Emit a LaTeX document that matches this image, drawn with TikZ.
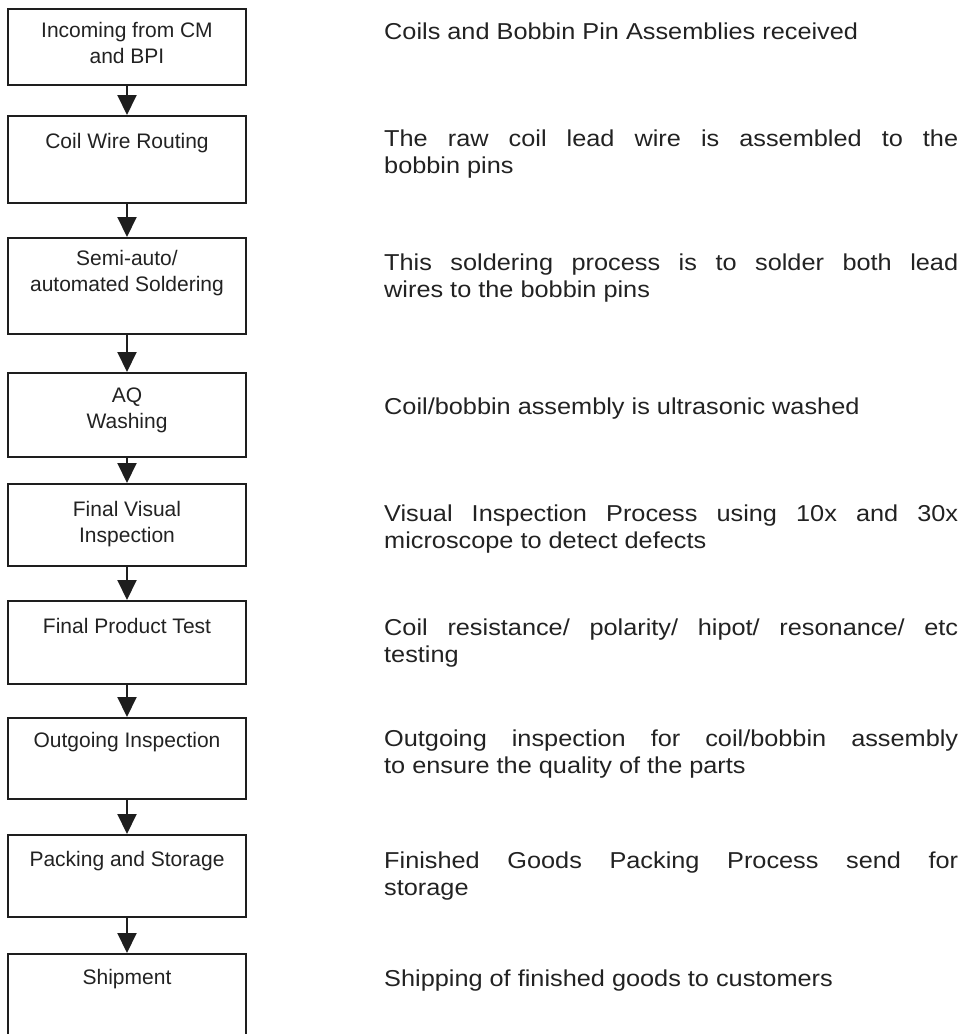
\documentclass[tikz,border=0pt]{standalone}
\usepackage{fontspec}
\setmainfont{Liberation Sans}
\newfontfamily\descfont[FakeStretch=1.1]{Liberation Sans}
\usetikzlibrary{arrows.meta}
\definecolor{linec}{HTML}{1E1E1E}
\definecolor{textc}{HTML}{222222}
\tolerance=10000
\hbadness=10000
\begin{document}
\begin{tikzpicture}[x=1pt,y=-1pt,
  stepbox/.style={draw=linec, line width=2.2pt, minimum width=238pt, inner sep=0pt, anchor=north},
  boxtext/.style={font=\fontsize{21}{26}\selectfont, inner sep=0pt, anchor=base, text=textc},
  desc/.style={font=\descfont\fontsize{23}{27.5}\selectfont, inner sep=0pt, anchor=base west, text=textc},
  flow/.style={draw=linec, line width=2pt, -{Triangle[length=20pt,width=19pt]}}]
\useasboundingbox (0,0) rectangle (961,1034);

% process boxes
\node[stepbox, minimum height=76pt] (b1) at (127,8) {};
\node[stepbox, minimum height=87pt] (b2) at (127,115) {};
\node[stepbox, minimum height=96pt] (b3) at (127,237) {};
\node[stepbox, minimum height=84pt] (b4) at (127,372) {};
\node[stepbox, minimum height=82pt] (b5) at (127,483) {};
\node[stepbox, minimum height=83pt] (b6) at (127,600) {};
\node[stepbox, minimum height=81pt] (b7) at (127,717) {};
\node[stepbox, minimum height=82pt] (b8) at (127,834) {};
\node[stepbox, minimum height=86pt] (b9) at (127,953) {};

% box captions
\node[boxtext] (t1) at (127,37) {\begin{tabular}[t]{@{}c@{}}Incoming from CM\\and BPI\end{tabular}};
\node[boxtext] (t2) at (127,148) {Coil Wire Routing};
\node[boxtext] (t3) at (127,265) {\begin{tabular}[t]{@{}c@{}}Semi-auto/\\automated Soldering\end{tabular}};
\node[boxtext] (t4) at (127,402) {\begin{tabular}[t]{@{}c@{}}AQ\\Washing\end{tabular}};
\node[boxtext] (t5) at (127,516) {\begin{tabular}[t]{@{}c@{}}Final Visual\\Inspection\end{tabular}};
\node[boxtext] (t6) at (127,633) {Final Product Test};
\node[boxtext] (t7) at (127,747) {Outgoing Inspection};
\node[boxtext] (t8) at (127,866) {Packing and Storage};
\node[boxtext] (t9) at (127,984) {Shipment};

% flow arrows
\foreach \a/\b in {b1/b2,b2/b3,b3/b4,b4/b5,b5/b6,b6/b7,b7/b8,b8/b9}
  \draw[flow] (\a.south) -- (\b.north);

% descriptions
\node[desc] (d1) at (384,39) {\parbox[t]{574pt}{Coils and Bobbin Pin Assemblies received}};
\node[desc] (d2) at (384,146) {\parbox[t]{574pt}{The raw coil lead wire is assembled to the\linebreak bobbin pins}};
\node[desc] (d3) at (384,270) {\parbox[t]{574pt}{This soldering process is to solder both lead\linebreak wires to the bobbin pins}};
\node[desc] (d4) at (384,414) {\parbox[t]{574pt}{Coil/bobbin assembly is ultrasonic washed}};
\node[desc] (d5) at (384,521) {\parbox[t]{574pt}{Visual Inspection Process using 10x and 30x\linebreak microscope to detect defects}};
\node[desc] (d6) at (384,635) {\parbox[t]{574pt}{Coil resistance/ polarity/ hipot/ resonance/ etc\linebreak testing}};
\node[desc] (d7) at (384,746) {\parbox[t]{574pt}{Outgoing inspection for coil/bobbin assembly\linebreak to ensure the quality of the parts}};
\node[desc] (d8) at (384,868) {\parbox[t]{574pt}{Finished Goods Packing Process send for\linebreak storage}};
\node[desc] (d9) at (384,986) {\parbox[t]{574pt}{Shipping of finished goods to customers}};
\end{tikzpicture}
\end{document}
